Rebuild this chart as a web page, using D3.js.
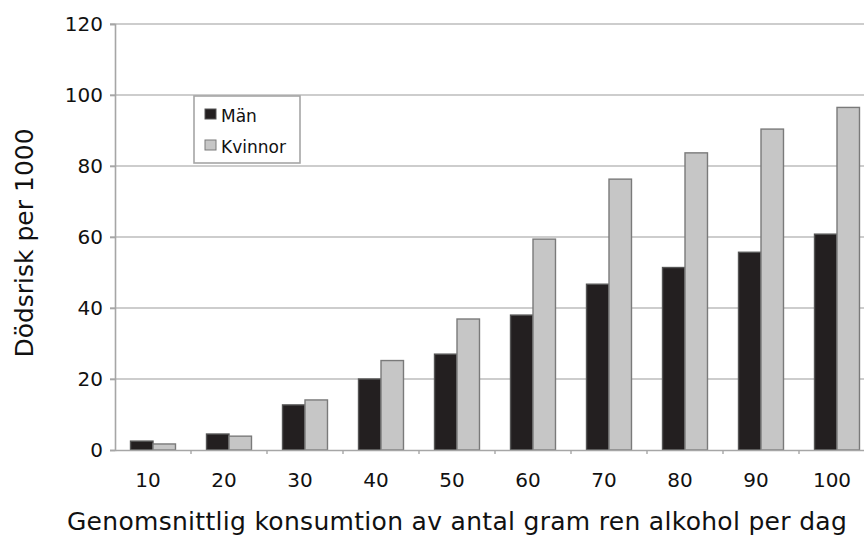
<!DOCTYPE html>
<html><head><meta charset="utf-8">
<script src="https://cdn.jsdelivr.net/npm/d3@7"></script>
<style>body{margin:0;background:#fff}svg{display:block}text{font-family:"DejaVu Sans",Verdana,sans-serif;fill:#111}</style>
</head><body><svg id="c" width="864" height="536"></svg>
<script>
const categories = ["10","20","30","40","50","60","70","80","90","100"];
const man = [2.5, 4.5, 12.7, 20, 27, 38, 46.7, 51.4, 55.7, 60.8];
const kvinnor = [1.7, 3.9, 14.1, 25.2, 36.9, 59.4, 76.3, 83.7, 90.4, 96.5];
const yTicks = [0, 20, 40, 60, 80, 100, 120];
const seriesNames = ["Män", "Kvinnor"];

const svg = d3.select("#c");
const mLeft = 115, mTop = 24, mBottom = 450, mRight = 875;
const x = d3.scaleBand().domain(categories).range([mLeft, mRight]);
const xs = d3.scaleBand().domain(seriesNames).range([0, x.bandwidth()]).paddingInner(0).paddingOuter(0.69);
const y = d3.scaleLinear().domain([0, 120]).range([mBottom, mTop]);
const fills = ["#231f20", "#c6c6c6"];
const strokes = ["#555", "#7a7a7a"];

// gridlines
svg.append("g").selectAll("line").data(yTicks.filter(d => d > 0)).join("line")
  .attr("x1", mLeft - 5).attr("x2", 864).attr("y1", d => y(d)).attr("y2", d => y(d))
  .attr("stroke", "#bdbdbd").attr("stroke-width", 1.6);

// y axis
const ya = svg.append("g").attr("transform", `translate(${mLeft},0)`)
  .call(d3.axisLeft(y).tickValues(yTicks).tickSize(5).tickPadding(7));
ya.select(".domain").attr("stroke", "#a6a6a6").attr("stroke-width", 1.6);
ya.selectAll(".tick line").attr("stroke", "#a6a6a6").attr("stroke-width", 1.6);
ya.selectAll("text").attr("font-size", 20).attr("fill", "#111").attr("font-family", "DejaVu Sans");

// bars
const series = [man, kvinnor];
series.forEach((vals, si) => {
  svg.append("g").selectAll("rect").data(categories.map((c, i) => ({c, v: vals[i]}))).join("rect")
    .attr("x", d => x(d.c) + xs(seriesNames[si]))
    .attr("width", xs.bandwidth())
    .attr("y", d => y(d.v))
    .attr("height", d => y(0) - y(d.v))
    .attr("fill", fills[si]).attr("stroke", strokes[si]).attr("stroke-width", 1.4);
});

// x axis
const xa = svg.append("g").attr("transform", `translate(0,${mBottom})`)
  .call(d3.axisBottom(x).tickSize(0).tickPadding(20));
xa.select(".domain").attr("stroke", "#a6a6a6").attr("stroke-width", 1.6);
xa.selectAll("text").attr("font-size", 20).attr("fill", "#111").attr("font-family", "DejaVu Sans")
  .attr("dx", -5).attr("y", 23).attr("dy", 0).attr("dominant-baseline", "alphabetic")
  .attr("transform", null).each(function(){ this.setAttribute("y", 37); });
svg.append("g").selectAll("line").data(categories.slice(1)).join("line")
  .attr("x1", d => x(d)).attr("x2", d => x(d)).attr("y1", mBottom).attr("y2", mBottom + 4)
  .attr("stroke", "#a6a6a6").attr("stroke-width", 1.4);

// titles
svg.append("text").attr("x", 457).attr("y", 530).attr("text-anchor", "middle")
  .attr("font-size", 25).attr("letter-spacing", 0.3).text("Genomsnittlig konsumtion av antal gram ren alkohol per dag");
svg.append("text").attr("transform", "translate(33,243) rotate(-90)").attr("text-anchor", "middle")
  .attr("font-size", 25).text("Dödsrisk per 1000");

// legend
const lg = svg.append("g");
lg.append("rect").attr("x", 194).attr("y", 96).attr("width", 106).attr("height", 67)
  .attr("fill", "#fff").attr("stroke", "#a6a6a6").attr("stroke-width", 1.6);
seriesNames.forEach((n, i) => {
  const yy = 109 + i * 31;
  lg.append("rect").attr("x", 205).attr("y", yy).attr("width", 11).attr("height", 10)
    .attr("fill", fills[i]).attr("stroke", strokes[i]).attr("stroke-width", 1);
  lg.append("text").attr("x", 221).attr("y", yy + 13).attr("font-size", 17).text(n);
});
</script></body></html>
